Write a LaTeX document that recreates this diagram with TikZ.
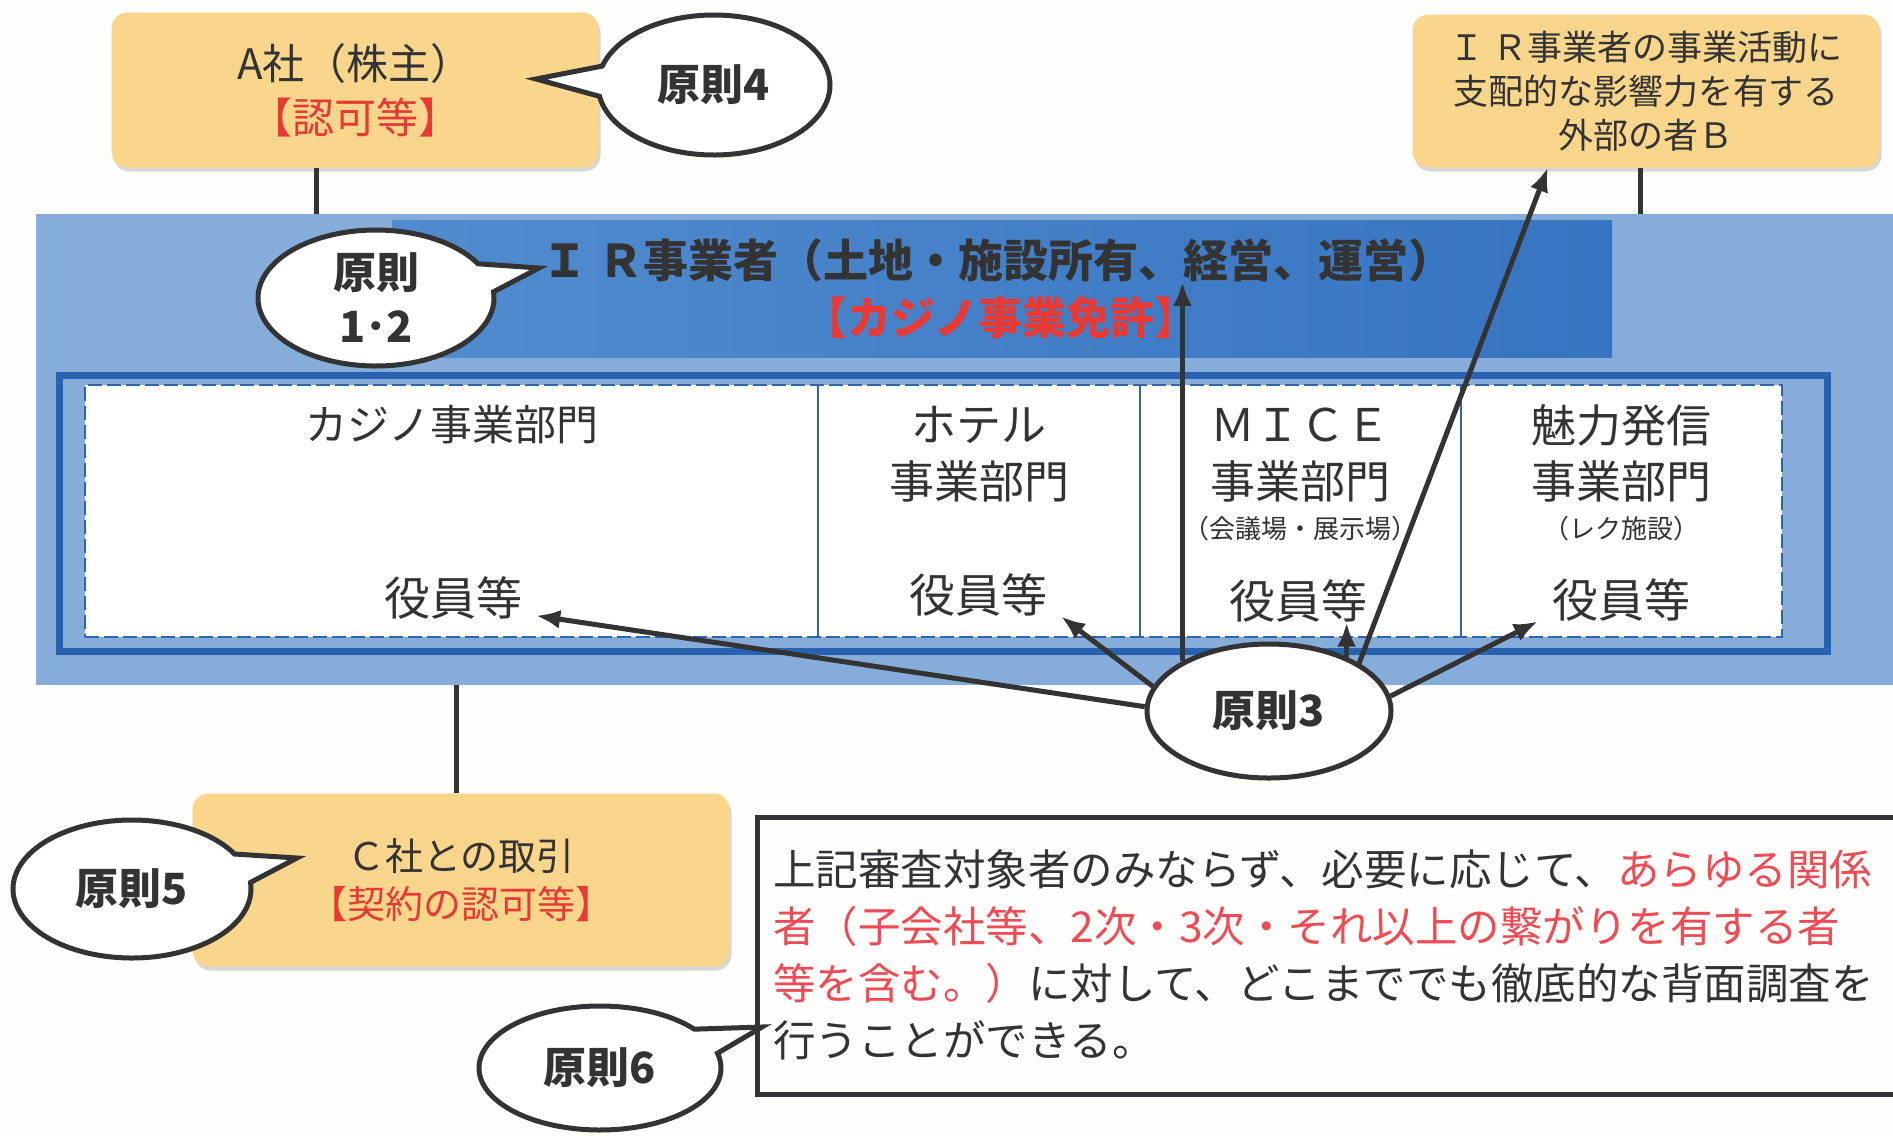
\documentclass[tikz,border=0pt]{standalone}
\usepackage{fontspec}
\setmainfont{Noto Sans CJK JP}
\usetikzlibrary{shapes.geometric,shapes.callouts,arrows.meta,shadows,calc}
\definecolor{ink}{RGB}{51,51,51}
\definecolor{redt}{RGB}{232,58,52}
\definecolor{pinkred}{RGB}{238,75,85}
\definecolor{orangebox}{RGB}{250,214,140}
\definecolor{bluebg}{RGB}{134,173,217}
\definecolor{bandL}{RGB}{82,140,207}
\definecolor{bandR}{RGB}{55,116,193}
\definecolor{frameblue}{RGB}{40,98,176}
\definecolor{dashblue}{RGB}{50,100,172}
\definecolor{pagebg}{RGB}{254,254,253}
\newcommand{\fsz}[2]{\fontsize{#1}{#2}\selectfont}
\begin{document}
\begin{tikzpicture}[x=1pt,y=-1pt,
  obox/.style={fill=orangebox, rounded corners=16pt, drop shadow={shadow xshift=2pt,shadow yshift=-4pt,opacity=0.3}, align=center, text=ink, inner sep=0pt},
  bubble/.style={ellipse callout, draw=ink, line width=5pt, fill=white, callout pointer arc=25, font=\bfseries\fsz{43}{54}, text=ink, align=center, inner sep=0pt},
  conn/.style={draw=ink, line width=5pt},
  arr/.style={draw=ink, line width=5pt, -{Latex[length=24pt,width=19pt]}},
  sect/.style={font=\fsz{45}{56}, text=ink, inner sep=0pt},
  subsect/.style={font=\fsz{26}{30}, text=ink, inner sep=0pt},
  yk/.style={font=\fsz{46}{56}, text=ink, inner xsep=14pt, inner ysep=0pt}
]
\fill[pagebg] (0,0) rectangle (1893,1136);
\useasboundingbox (0,0) rectangle (1893,1136);

% IR operator area
\node[fill=bluebg, minimum width=1857pt, minimum height=471pt, anchor=north west, inner sep=0pt, outer sep=0pt] (ir) at (36,214) {};
\node[left color=bandL, right color=bandR, minimum width=1220pt, minimum height=137pt, anchor=north west, inner sep=0pt, outer sep=0pt] (band) at (392,220) {};
\node[draw=frameblue, line width=7pt, minimum width=1768pt, minimum height=276pt, inner sep=0pt] (frame) at (943.5,513.5) {};
\node[fill=white, draw=dashblue, line width=2.5pt, dash pattern=on 14pt off 5pt, minimum width=1697pt, minimum height=252pt, inner sep=0pt] (dept) at (933.5,511) {};
\foreach \x in {818,1140,1461} \draw[dashblue, line width=1.5pt] (\x,386) -- (\x,636);

\node[font=\bfseries\fsz{45}{50}, text=ink, inner sep=0pt] (title) at (998,260) {Ｉ Ｒ事業者（土地・施設所有、経営、運営）};
\node[font=\bfseries\fsz{44}{50}, text=redt, inner sep=0pt] (lic) at (1001,318) {【カジノ事業免許】};

% departments
\node[font=\fsz{42}{56}, text=ink, inner sep=0pt] (casino) at (452,425) {カジノ事業部門};
\node[sect] (hotel) at (979,425) {ホテル};
\node[sect] (hotel2) at (979,481) {事業部門};
\node[sect] (mice) at (1300,425) {ＭＩＣＥ};
\node[sect] (mice2) at (1300,481) {事業部門};
\node[subsect] (mice3) at (1300,529) {（会議場・展示場）};
\node[sect] (miryoku) at (1621,425) {魅力発信};
\node[sect] (miryoku2) at (1621,481) {事業部門};
\node[subsect] (miryoku3) at (1621,529) {（レク施設）};
\node[yk] (yk1) at (453,598) {役員等};
\node[yk] (yk2) at (978,595) {役員等};
\node[yk] (yk3) at (1298,601) {役員等};
\node[yk] (yk4) at (1621,600) {役員等};

% orange boxes
\node[obox, minimum width=487pt, minimum height=155pt, font=\fsz{42}{54}] (A) at (355,90) {A社（株主）\\\textcolor{redt}{【認可等】}};
\node[obox, minimum width=467pt, minimum height=153pt, font=\fsz{35}{44}] (B) at (1646,91) {Ｉ Ｒ事業者の事業活動に\\支配的な影響力を有する\\外部の者Ｂ};
\node[obox, minimum width=537pt, minimum height=173pt, font=\fsz{38}{48}] (C) at (461,880) {Ｃ社との取引\\\textcolor{redt}{【契約の認可等】}};

% connectors
\coordinate (aL) at ($(A.south)+(-39,0)$);
\draw[conn] (aL) -- (aL |- ir.north);
\coordinate (bL) at ($(B.south)+(-6,0)$);
\draw[conn] (bL) -- (bL |- ir.north);
\coordinate (cT) at ($(C.north)+(-5,0)$);
\draw[conn] (cT |- ir.south) -- (cT);

% note box
\node[draw=ink, line width=5pt, minimum width=1150pt, minimum height=277pt, inner sep=0pt, anchor=north west] (notebox) at (755,815) {};
\node[anchor=west, align=left, font=\fsz{42.5}{57}, text=ink, inner sep=0pt] (note) at (773,955) {上記審査対象者のみならず、必要に応じて、\textcolor{pinkred}{あらゆる関係}\\\textcolor{pinkred}{者（子会社等、2次・3次・それ以上の繋がりを有する者}\\\textcolor{pinkred}{等を含む。）}に対して、どこまででも徹底的な背面調査を\\行うことができる。};

% bubbles
\node[bubble, minimum width=232pt, minimum height=140pt, callout absolute pointer={(536,79)}] (p4) at (714,85) {原則4};
\node[bubble, minimum width=236pt, minimum height=136pt, callout absolute pointer={(539,268)}] (p12) at (376,298) {原則\\1･2};
\node[bubble, minimum width=238pt, minimum height=138pt, callout absolute pointer={(297,858)}] (p5) at (132,889) {原則5};
\node[bubble, minimum width=242pt, minimum height=124pt, callout absolute pointer={(762,1027)}] (p6) at (600,1068) {原則6};
\node[ellipse, draw=ink, line width=5pt, fill=white, minimum width=244pt, minimum height=134pt, font=\bfseries\fsz{43}{50}, text=ink, inner sep=0pt] (p3) at (1269,711) {原則3};

% arrows from principle 3
\draw[arr] (p3.178) -- (yk1.-12);
\draw[arr] (p3.168) -- (yk2.south east);
\draw[arr] (p3.150) -- (p3.150 |- title.south);
\draw[arr] (p3.35) -- (p3.35 |- yk3.south);
\draw[arr] (p3.28) -- (B.218);
\draw[arr] (p3.7) -- (yk4.south west);
\end{tikzpicture}
\end{document}
